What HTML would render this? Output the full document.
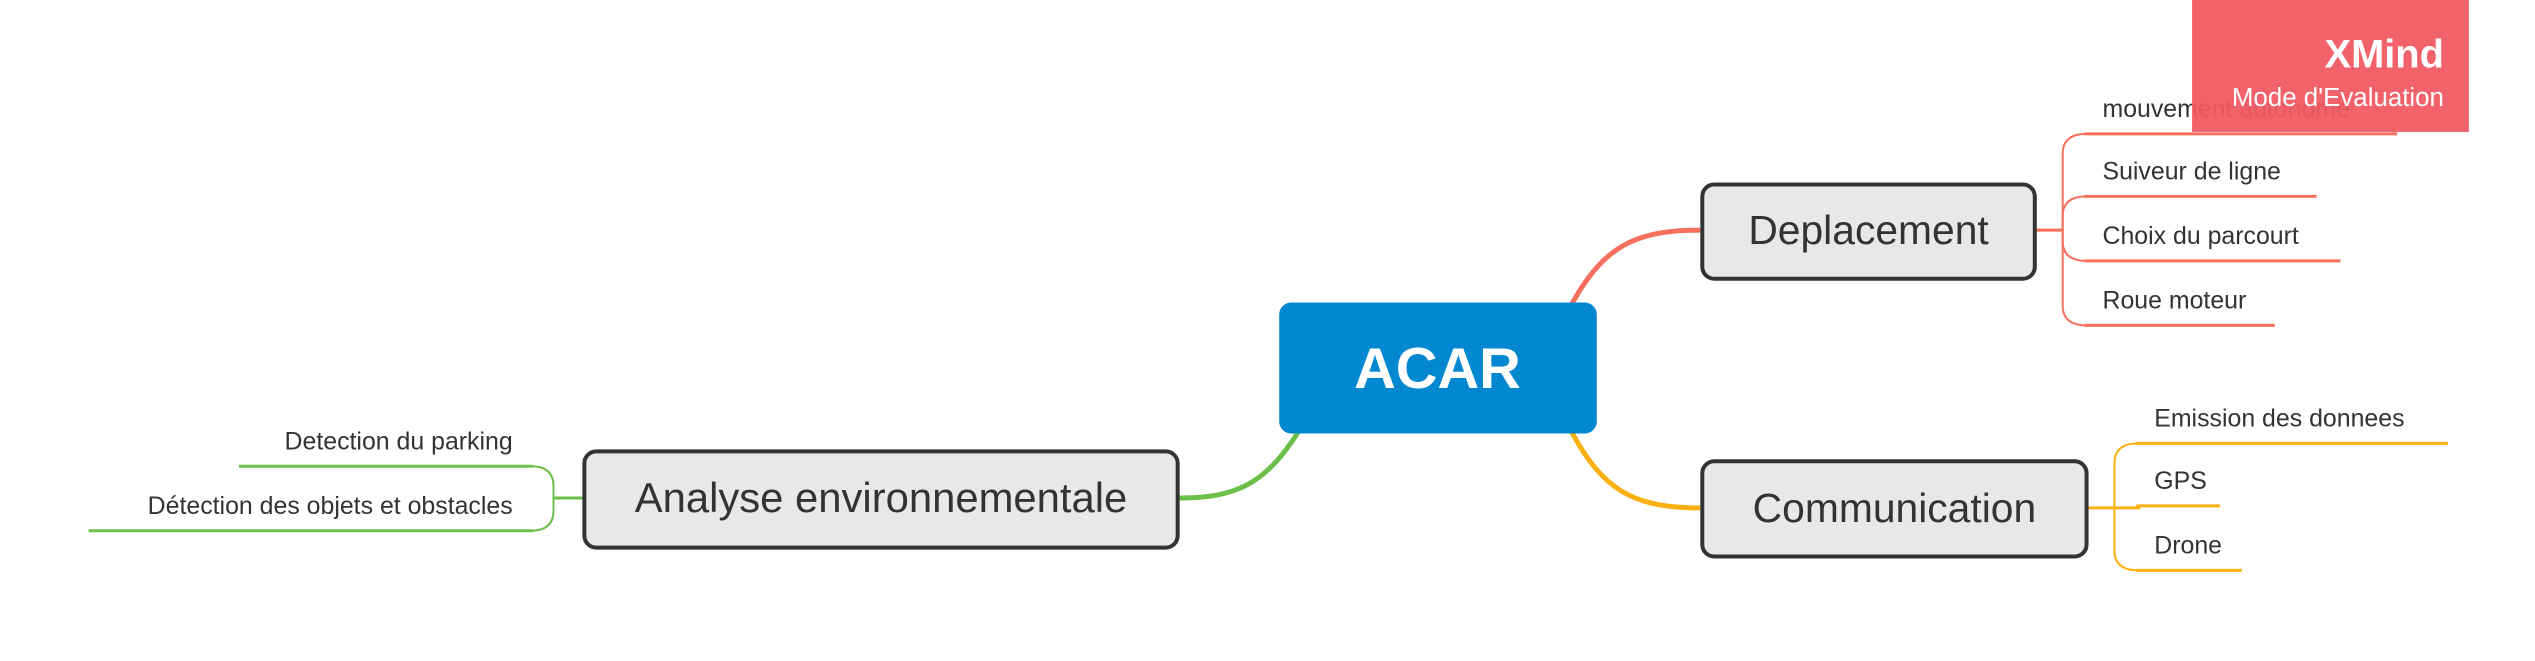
<!DOCTYPE html>
<html><head><meta charset="utf-8"><style>
html,body{margin:0;padding:0;background:#fff;}
svg{display:block;}
text{font-family:"Liberation Sans",sans-serif;}
</style></head><body>
<svg width="2535" height="661" viewBox="0 0 2535 661" xmlns="http://www.w3.org/2000/svg">
<g transform="scale(0.9955,0.992)">
<!-- main connectors -->
<path d="M1578 308 C1610 250 1640 232 1708 232" fill="none" stroke="#f7705e" stroke-width="5"/>
<path d="M1578 434 C1610 494 1640 512 1708 512" fill="none" stroke="#fbb012" stroke-width="5"/>
<path d="M1305 434 C1270 490 1240 502 1183 502" fill="none" stroke="#6cc04a" stroke-width="5"/>

<!-- Deplacement branches -->
<g fill="none" stroke="#f7705e" stroke-width="2">
<line x1="2044" y1="232" x2="2072" y2="232" stroke-width="3"/>
<path d="M2096 135 Q2072 135 2072 155 L2072 308 Q2072 328 2096 328"/>
<path d="M2096 198 Q2072 198 2072 218 L2072 243 Q2072 263 2096 263"/>
</g>
<g stroke="#f7705e" stroke-width="3">
<line x1="2094" y1="135" x2="2408" y2="135"/>
<line x1="2094" y1="198" x2="2327" y2="198"/>
<line x1="2094" y1="263" x2="2351" y2="263"/>
<line x1="2094" y1="328" x2="2285" y2="328"/>
</g>
<g font-size="25" fill="#333">
<text x="2112" y="118">mouvement autonome</text>
<text x="2112" y="181">Suiveur de ligne</text>
<text x="2112" y="246">Choix du parcourt</text>
<text x="2112" y="311">Roue moteur</text>
</g>

<!-- Communication branches -->
<g fill="none" stroke="#fbb012" stroke-width="2">
<line x1="2096" y1="512" x2="2150" y2="512" stroke-width="3"/>
<path d="M2148 447 Q2124 447 2124 467 L2124 555 Q2124 575 2148 575"/>
</g>
<g stroke="#fbb012" stroke-width="3">
<line x1="2146" y1="447" x2="2459" y2="447"/>
<line x1="2146" y1="510" x2="2230" y2="510"/>
<line x1="2146" y1="575" x2="2252" y2="575"/>
</g>
<g font-size="25" fill="#333">
<text x="2164" y="430">Emission des donnees</text>
<text x="2164" y="493">GPS</text>
<text x="2164" y="558">Drone</text>
</g>

<!-- Analyse branches -->
<g fill="none" stroke="#6cc04a" stroke-width="2">
<line x1="556" y1="502" x2="585" y2="502" stroke-width="3"/>
<path d="M533 470 Q556 470 556 490 L556 515 Q556 535 533 535"/>
</g>
<g stroke="#6cc04a" stroke-width="3">
<line x1="240" y1="470" x2="535" y2="470"/>
<line x1="89" y1="535" x2="535" y2="535"/>
</g>
<g font-size="25" fill="#333" text-anchor="end">
<text x="515" y="453">Detection du parking</text>
<text x="515" y="518">Détection des objets et obstacles</text>
</g>

<!-- boxes -->
<rect x="1285" y="305" width="319" height="132" rx="12" fill="#0288d1"/>
<text x="1444" y="391" font-size="58" font-weight="bold" fill="#fff" text-anchor="middle">ACAR</text>

<rect x="1710" y="186" width="334" height="95" rx="12" fill="#e8e8e8" stroke="#333" stroke-width="4"/>
<text x="1877" y="246" font-size="41" fill="#333" text-anchor="middle">Deplacement</text>

<rect x="1710" y="465" width="386" height="96" rx="12" fill="#e8e8e8" stroke="#333" stroke-width="4"/>
<text x="1903" y="526" font-size="41" fill="#333" text-anchor="middle">Communication</text>

<rect x="587" y="455" width="596" height="97" rx="12" fill="#e8e8e8" stroke="#333" stroke-width="4"/>
<text x="885" y="516" font-size="42" fill="#333" text-anchor="middle">Analyse environnementale</text>

<!-- XMind badge -->
<rect x="2202" y="0" width="278" height="133" fill="#f05a63" fill-opacity="0.95"/>
<text x="2455" y="68" font-size="40" font-weight="bold" fill="#fff" text-anchor="end">XMind</text>
<text x="2455" y="107" font-size="26" fill="#fff" text-anchor="end">Mode d'Evaluation</text>
</g>
</svg>
</body></html>
